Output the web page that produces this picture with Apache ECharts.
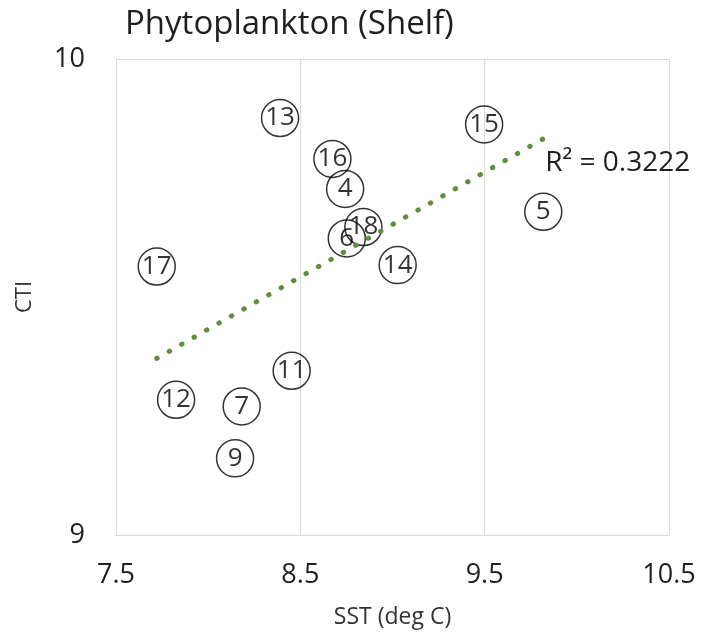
<!DOCTYPE html>
<html>
<head>
<meta charset="utf-8">
<script src="https://cdn.jsdelivr.net/npm/echarts@6/dist/echarts.min.js"></script>
<style>html,body{margin:0;padding:0;background:#fff;}#c{width:702px;height:634px;}</style>
</head>
<body>
<div id="c"></div>
<script>
// Data
const pointLabels = ['4', '5', '6', '7', '9', '11', '12', '13', '14', '15', '16', '17', '18'];
const sstValues = [8.743, 9.818, 8.752, 8.182, 8.146, 8.453, 7.826, 8.390, 9.028, 9.497, 8.674, 7.721, 8.842];
const ctiValues = [9.727, 9.679, 9.623, 9.270, 9.161, 9.345, 9.284, 9.876, 9.567, 9.8625, 9.790, 9.564, 9.647];
const xTicks = [7.5, 8.5, 9.5, 10.5];
const yTicks = [9, 10];
const r2Text = 'R\u00B2 = 0.3222';
const titleText = 'Phytoplankton (Shelf)';
const xName = 'SST (deg C)';
const yName = 'CTI';

// Linear least-squares trendline from the data
const n = sstValues.length;
const mx = sstValues.reduce((a, b) => a + b, 0) / n;
const my = ctiValues.reduce((a, b) => a + b, 0) / n;
let sxy = 0, sxx = 0;
for (let i = 0; i < n; i++) { sxy += (sstValues[i] - mx) * (ctiValues[i] - my); sxx += (sstValues[i] - mx) ** 2; }
const slope = sxy / sxx;
const intercept = my - slope * mx;
const xMin = Math.min(...sstValues), xMax = Math.max(...sstValues);
const trendData = [[xMin, intercept + slope * xMin], [xMax, intercept + slope * xMax]];

const font = '"Open Sans", "Noto Sans", sans-serif';
const chart = echarts.init(document.getElementById('c'), null, { renderer: 'canvas' });
chart.setOption({
  animation: false,
  backgroundColor: '#fff',
  title: {
    text: titleText, left: 120, top: 3,
    textStyle: { fontFamily: font, fontSize: 33, fontWeight: 'normal', color: '#1f1f1f' }
  },
  grid: { left: 116, right: 33, top: 59, bottom: 95, containLabel: false },
  xAxis: {
    type: 'value', min: xTicks[0], max: xTicks[xTicks.length - 1], interval: 1,
    name: xName, nameLocation: 'middle', nameGap: 71,
    nameTextStyle: { fontFamily: font, fontSize: 23, color: '#333' },
    axisLine: { show: true, lineStyle: { color: '#d9d9d9', width: 1 } },
    axisTick: { show: false },
    axisLabel: { fontFamily: font, fontSize: 27, color: '#1f1f1f', margin: 27, formatter: v => v.toFixed(1) },
    splitLine: { show: true, lineStyle: { color: '#d9d9d9', width: 1 } }
  },
  yAxis: {
    type: 'value', min: yTicks[0], max: yTicks[yTicks.length - 1], interval: 1,
    name: yName, nameLocation: 'middle', nameGap: 80,
    nameTextStyle: { fontFamily: font, fontSize: 22, color: '#333' },
    axisLine: { show: true, lineStyle: { color: '#d9d9d9', width: 1 } },
    axisTick: { show: false },
    axisLabel: { fontFamily: font, fontSize: 27, color: '#1f1f1f', margin: 31 },
    splitLine: { show: true, lineStyle: { color: '#d9d9d9', width: 1 } }
  },
  series: [
    {
      type: 'scatter',
      data: sstValues.map((x, i) => ({ value: [x, ctiValues[i]], name: pointLabels[i] })),
      symbol: 'circle', symbolSize: 37,
      itemStyle: { color: 'rgba(255,255,255,0)', borderColor: '#000', borderWidth: 1.5 },
      label: {
        show: true, position: 'inside', formatter: p => p.name,
        fontFamily: font, fontSize: 26, color: '#000'
      },
      emphasis: { disabled: true },
      z: 3
    },
    {
      type: 'line',
      data: trendData,
      symbol: 'none',
      lineStyle: { color: '#5f8f3e', width: 5, type: [0.5, 13.8], cap: 'round' },
      endLabel: {
        show: true, formatter: r2Text, fontFamily: font, fontSize: 28, color: '#1f1f1f',
        offset: [-6, 24]
      },
      z: 4
    }
  ]
});
</script>
</body>
</html>
